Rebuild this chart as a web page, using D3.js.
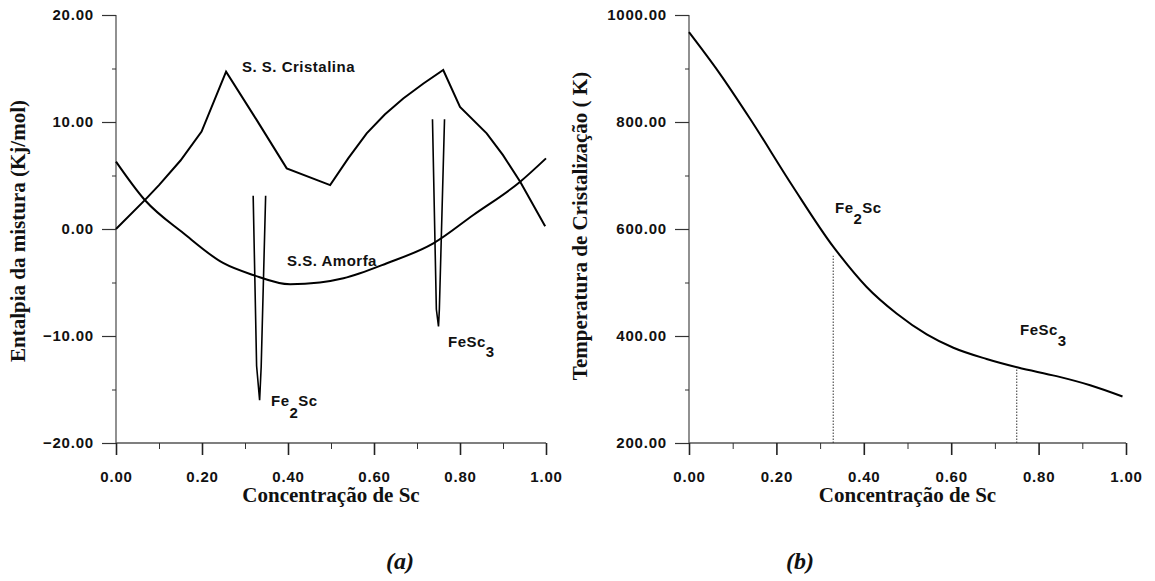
<!DOCTYPE html>
<html>
<head>
<meta charset="utf-8">
<script src="https://cdn.jsdelivr.net/npm/d3@7"></script>
<style>
  html, body { margin: 0; padding: 0; background: #fff; }
  svg { display: block; }
  .tick-label { font-family: "Liberation Sans", Arial, sans-serif; font-weight: bold; font-size: 15px; letter-spacing: 0.8px; fill: #111; }
  .note { font-family: "Liberation Sans", Arial, sans-serif; font-weight: bold; font-size: 15px; letter-spacing: 0.5px; fill: #111; }
  .axis-title { font-family: "Liberation Serif", "Times New Roman", serif; font-weight: bold; font-size: 21px; fill: #111; }
  .panel-tag { font-family: "Liberation Serif", "Times New Roman", serif; font-weight: bold; font-style: italic; font-size: 24px; fill: #111; }
</style>
</head>
<body>
<svg id="chart" width="1155" height="581"></svg>
<script>
// ---- shared axis ticks ----
const concTicks = [0, 0.2, 0.4, 0.6, 0.8, 1.0];
const concMinorTicks = [0.1, 0.3, 0.5, 0.7, 0.9];
const enthalpyTicks = [-20, -10, 0, 10, 20];
const enthalpyMinorTicks = [-15, -5, 5, 15];
const tempTicks = [200, 400, 600, 800, 1000];
const tempMinorTicks = [300, 500, 700, 900];

// ---- panel (a): enthalpy of mixing, kJ/mol ----
const crystallineConc = [0, 0.067, 0.1, 0.15, 0.199, 0.256, 0.327, 0.397, 0.498, 0.54, 0.583, 0.625, 0.668, 0.715, 0.761, 0.800, 0.862, 0.90, 0.940, 0.998];
const crystallineH    = [0, 2.7, 4.1, 6.4, 9.1, 14.7, 10.2, 5.67, 4.1, 6.6, 8.94, 10.7, 12.2, 13.6, 14.86, 11.4, 8.94, 6.9, 4.42, 0.25];

const amorphousConc = [0, 0.067, 0.157, 0.25, 0.319, 0.405, 0.474, 0.529, 0.63, 0.738, 0.831, 0.94, 1.0];
const amorphousH    = [6.3, 2.71, -0.4, -3.2, -4.3, -5.17, -5.0, -4.6, -3.2, -1.34, 1.31, 4.42, 6.6];

// intermetallic wells
const fe2scWellConc = [0.319, 0.327, 0.334, 0.3376, 0.348];
const fe2scWellH    = [3.1, -12.8, -16.0, -12.9, 3.1];
const fesc3WellConc = [0.736, 0.745, 0.750, 0.752, 0.764];
const fesc3WellH    = [10.25, -7.5, -9.1, -7.5, 10.25];

// ---- panel (b): crystallisation temperature, K ----
const tempConc = [0, 0.07, 0.139, 0.238, 0.33, 0.345, 0.406, 0.475, 0.544, 0.605, 0.681, 0.753, 0.841, 0.918, 0.992];
const tempK    = [968, 891, 807, 679, 567, 551, 492, 442, 403, 378, 357, 341, 325, 308, 287];

const compoundConc = [0.33, 0.75];
const compoundTopK = [550, 340];

const svg = d3.select("#chart");

const plotTop = 15, plotBottom = 443;

function panel(opts) {
  const g = svg.append("g");
  const x = d3.scaleLinear().domain([0, 1]).range([opts.left, opts.right]);
  const y = d3.scaleLinear().domain(opts.yDomain).range([plotBottom, plotTop]);

  // axis lines
  g.append("line").attr("x1", opts.left).attr("x2", opts.left)
    .attr("y1", plotTop).attr("y2", plotBottom)
    .attr("stroke", "#555").attr("stroke-width", 1.3);
  g.append("line").attr("x1", opts.left).attr("x2", opts.right)
    .attr("y1", plotBottom).attr("y2", plotBottom)
    .attr("stroke", "#555").attr("stroke-width", 1.3);

  // y axis: major ticks outward with labels
  const yAxis = d3.axisLeft(y).tickValues(opts.yTicks).tickSize(14).tickPadding(8)
    .tickFormat(d3.format(".2f"));
  const ya = g.append("g").attr("transform", `translate(${opts.left},0)`).call(yAxis);
  ya.select(".domain").remove();
  ya.selectAll(".tick line").attr("stroke", "#333").attr("stroke-width", 1.2);
  ya.selectAll(".tick text").attr("class", "tick-label").attr("font-size", null).attr("font-family", null);

  const yMinor = d3.axisLeft(y).tickValues(opts.yMinor).tickSize(4).tickFormat("");
  const ym = g.append("g").attr("transform", `translate(${opts.left},0)`).call(yMinor);
  ym.select(".domain").remove();
  ym.selectAll(".tick line").attr("stroke", "#333");

  // x axis
  const xAxis = d3.axisBottom(x).tickValues(concTicks).tickSize(12).tickPadding(16)
    .tickFormat(d3.format(".2f"));
  const xa = g.append("g").attr("transform", `translate(0,${plotBottom})`).call(xAxis);
  xa.select(".domain").remove();
  xa.selectAll(".tick line").attr("stroke", "#222").attr("stroke-width", 1.6);
  xa.selectAll(".tick text").attr("class", "tick-label").attr("font-size", null).attr("font-family", null);

  const xMinor = d3.axisBottom(x).tickValues(concMinorTicks).tickSize(6).tickFormat("");
  const xm = g.append("g").attr("transform", `translate(0,${plotBottom})`).call(xMinor);
  xm.select(".domain").remove();
  xm.selectAll(".tick line").attr("stroke", "#333");

  // titles
  g.append("text").attr("class", "axis-title")
    .attr("transform", `translate(${opts.yTitleX},${opts.yTitleY}) rotate(-90)`)
    .attr("text-anchor", "middle").text(opts.yTitle);
  g.append("text").attr("class", "axis-title")
    .attr("x", (opts.left + opts.right) / 2).attr("y", 502)
    .attr("text-anchor", "middle").text("Concentração de Sc");
  g.append("text").attr("class", "panel-tag")
    .attr("x", opts.tagX).attr("y", 569)
    .attr("text-anchor", "middle").text(opts.tag);

  return { g, x, y };
}

function series(xs, ys) { return xs.map((c, i) => [c, ys[i]]); }

// formula label: base text, subscript digit, trailing text
function formula(g, x0, y0, parts, subShift) {
  const t = g.append("text").attr("class", "note").attr("x", x0).attr("y", y0);
  t.append("tspan").text(parts[0]);
  t.append("tspan").attr("dy", subShift).text(parts[1]);
  if (parts[2]) t.append("tspan").attr("dy", -subShift).text(parts[2]);
  return t;
}

// ===== panel (a) =====
const A = panel({
  left: 116, right: 546, yDomain: [-20, 20], yTicks: enthalpyTicks, yMinor: enthalpyMinorTicks,
  yTitle: "Entalpia da mistura (Kj/mol)", yTitleX: 25, yTitleY: 231,
  tag: "(a)", tagX: 400
});

const lineA = d3.line().x(d => A.x(d[0])).y(d => A.y(d[1]));
A.g.append("path").datum(series(crystallineConc, crystallineH))
  .attr("d", lineA).attr("fill", "none").attr("stroke", "#000").attr("stroke-width", 2);
A.g.append("path").datum(series(amorphousConc, amorphousH))
  .attr("d", lineA.curve(d3.curveMonotoneX)).attr("fill", "none").attr("stroke", "#000").attr("stroke-width", 2);
const wellLine = d3.line().x(d => A.x(d[0])).y(d => A.y(d[1]));
[series(fe2scWellConc, fe2scWellH), series(fesc3WellConc, fesc3WellH)].forEach(s => {
  A.g.append("path").datum(s).attr("d", wellLine)
    .attr("fill", "none").attr("stroke", "#000").attr("stroke-width", 1.6);
});

A.g.append("text").attr("class", "note").attr("x", 242).attr("y", 72).text("S. S. Cristalina");
A.g.append("text").attr("class", "note").attr("x", 287).attr("y", 266).text("S.S. Amorfa");
formula(A.g, 271, 406, ["Fe", "2", "Sc"], 12);
formula(A.g, 448, 347, ["FeSc", "3"], 10);

// ===== panel (b) =====
const B = panel({
  left: 689, right: 1126, yDomain: [200, 1000], yTicks: tempTicks, yMinor: tempMinorTicks,
  yTitle: "Temperatura de Cristalização ( K)", yTitleX: 587, yTitleY: 226,
  tag: "(b)", tagX: 800
});

B.g.append("path").datum(series(tempConc, tempK))
  .attr("d", d3.line().x(d => B.x(d[0])).y(d => B.y(d[1])).curve(d3.curveMonotoneX))
  .attr("fill", "none").attr("stroke", "#000").attr("stroke-width", 2);

B.g.selectAll(".compound").data(compoundConc).join("line")
  .attr("x1", d => B.x(d)).attr("x2", d => B.x(d))
  .attr("y1", B.y(200)).attr("y2", (d, i) => B.y(compoundTopK[i]))
  .attr("stroke", "#333").attr("stroke-width", 1).attr("stroke-dasharray", "1.5,1.5");

formula(B.g, 835, 213, ["Fe", "2", "Sc"], 11);
formula(B.g, 1020, 335, ["FeSc", "3"], 11);
</script>
</body>
</html>
